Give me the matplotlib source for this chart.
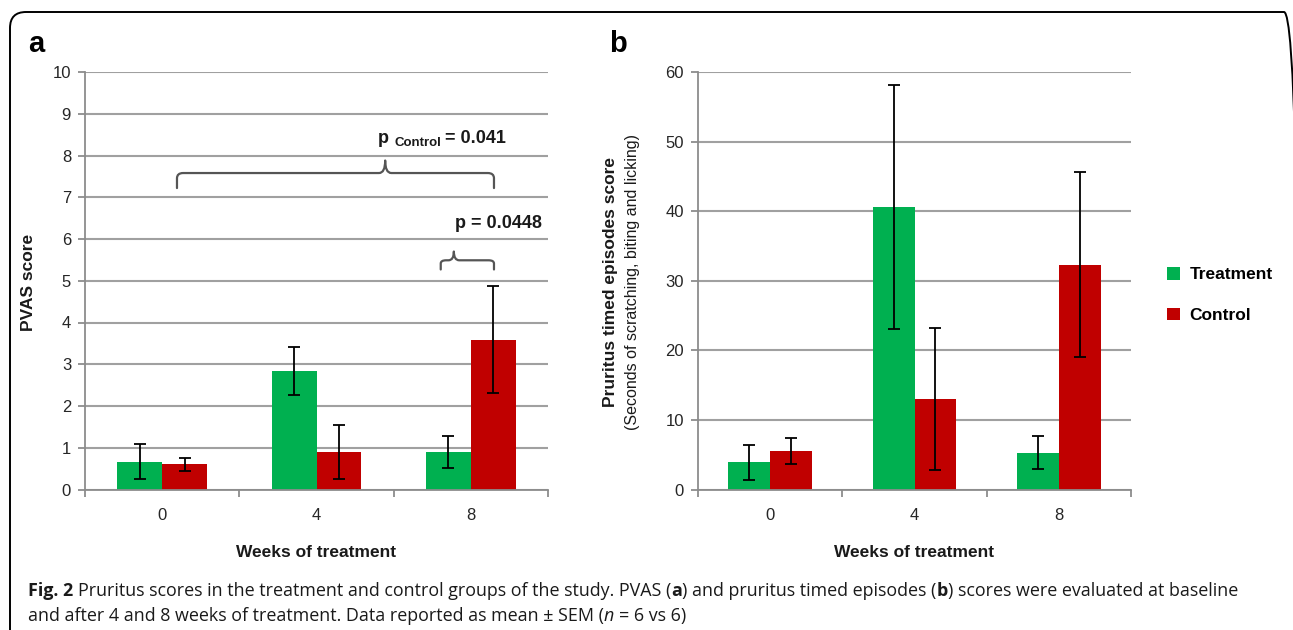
import numpy as np
import matplotlib
matplotlib.use("Agg")
from matplotlib import pyplot as plt
from matplotlib.path import Path
from matplotlib.patches import PathPatch, FancyBboxPatch
import matplotlib.transforms as mtransforms

weeks = ["0", "4", "8"]
pvas_treat = [0.66, 2.84, 0.90]
pvas_treat_sem = [0.42, 0.585, 0.385]
pvas_ctrl = [0.60, 0.90, 3.59]
pvas_ctrl_sem = [0.155, 0.65, 1.29]
ep_treat = [3.9, 40.6, 5.3]
ep_treat_sem = [2.5, 17.5, 2.4]
ep_ctrl = [5.5, 13.0, 32.3]
ep_ctrl_sem = [1.83, 10.2, 13.3]

GREEN = "#00b050"
RED = "#c00000"
GRID = "#a0a0a0"
SANS = ["Liberation Sans", "DejaVu Sans"]
CAP = ["Open Sans", "DejaVu Sans"]

fig = plt.figure(figsize=(12.93, 6.30), dpi=100)
renderer = fig.canvas.get_renderer()

# frame round the figure (pixel coords)
frame = FancyBboxPatch((10, -40), 1290, 658, boxstyle="round,pad=0,rounding_size=16",
                       transform=mtransforms.IdentityTransform(), fill=False,
                       ec="black", lw=1.4, zorder=0)
fig.patches.append(frame)

ax_a = fig.add_axes([85/1293, 140.5/630, 463/1293, 417.5/630])
ax_b = fig.add_axes([698/1293, 140.5/630, 433/1293, 417.5/630])

x = np.arange(len(weeks))
w = 0.29


def style_axes(ax, ymax, step):
    ax.set_xlim(-0.5, 2.5)
    ax.set_ylim(0, ymax)
    ax.set_yticks(np.arange(0, ymax + step / 2, step))
    ax.yaxis.grid(True, color=GRID, lw=1.5)
    ax.set_axisbelow(True)
    for s in ["top", "right"]:
        ax.spines[s].set_visible(False)
    for s in ["left", "bottom"]:
        ax.spines[s].set_color("#8c8c8c")
        ax.spines[s].set_linewidth(1.3)
    ax.set_xticks([-0.5, 0.5, 1.5, 2.5])
    ax.set_xticklabels([])
    ax.set_xticks(x, minor=True)
    ax.set_xticklabels(weeks, minor=True, fontfamily=SANS, fontsize=12, color="#262626")
    ax.tick_params(axis="x", which="major", length=5, width=1.3, color="#8c8c8c")
    ax.tick_params(axis="x", which="minor", length=0, pad=13)
    ax.tick_params(axis="y", length=5, width=1.3, color="#8c8c8c", pad=5)
    for t in ax.get_yticklabels():
        t.set_fontfamily(SANS)
        t.set_fontsize(12)
        t.set_color("#262626")
    ax.set_xlabel("Weeks of treatment", fontfamily=SANS, fontsize=12.5,
                  fontweight="bold", labelpad=16, color="#1a1a1a")


ekw = dict(ecolor="black", elinewidth=1.3, capsize=4.5, capthick=1.3)
ax_a.bar(x - w/2, pvas_treat, w, color=GREEN, yerr=pvas_treat_sem, error_kw=ekw, label="Treatment")
ax_a.bar(x + w/2, pvas_ctrl, w, color=RED, yerr=pvas_ctrl_sem, error_kw=ekw, label="Control")
style_axes(ax_a, 10, 1)
ax_a.set_ylabel("PVAS score", fontfamily=SANS, fontsize=12.5, fontweight="bold", color="#1a1a1a")
ax_a.yaxis.set_label_coords((36 - 85) / 463, 0.497)

ax_b.bar(x - w/2, ep_treat, w, color=GREEN, yerr=ep_treat_sem, error_kw=ekw, label="Treatment")
ax_b.bar(x + w/2, ep_ctrl, w, color=RED, yerr=ep_ctrl_sem, error_kw=ekw, label="Control")
style_axes(ax_b, 60, 10)
fig.text(610/1293, 1 - 282/630, "Pruritus timed episodes score", rotation=90,
         ha="center", va="center", fontfamily=SANS, fontsize=12.5, fontweight="bold", color="#1a1a1a")
fig.text(633/1293, 1 - 282/630, "(Seconds of scratching, biting and licking)", rotation=90,
         ha="center", va="center", fontfamily=SANS, fontsize=11.5, color="#1a1a1a")

ax_b.legend(loc="center left", bbox_to_anchor=(1167/1293, 1 - 295/630),
            bbox_transform=fig.transFigure, frameon=False, borderpad=0,
            borderaxespad=0, handlelength=0.75, handleheight=0.75,
            handletextpad=0.55, labelspacing=1.45,
            prop=dict(family=SANS, size=12.5, weight="bold"))

# panel letters
fig.text(28/1293, 1 - 52/630, "a", fontfamily=SANS, fontsize=21, fontweight="bold")
fig.text(609/1293, 1 - 52/630, "b", fontfamily=SANS, fontsize=21, fontweight="bold")


def brace(ax, x0, x1, xt, yb, yl, yt, r=0.04):
    verts = [(x0, yb), (x0, yl - (yl - yb) * 0.35), (x0, yl), (x0 + r, yl),
             (xt - r, yl), (xt, yl), (xt, yt),
             (xt, yl), (xt + r, yl),
             (x1 - r, yl), (x1, yl), (x1, yl - (yl - yb) * 0.35), (x1, yb)]
    codes = [Path.MOVETO, Path.LINETO, Path.CURVE3, Path.CURVE3,
             Path.LINETO, Path.CURVE3, Path.CURVE3,
             Path.CURVE3, Path.CURVE3,
             Path.LINETO, Path.CURVE3, Path.CURVE3, Path.LINETO]
    ax.add_patch(PathPatch(Path(verts, codes), fill=False, ec="#555555", lw=1.6,
                           capstyle="round", joinstyle="round", zorder=4))


brace(ax_a, 0.096, 2.15, 1.445, 7.22, 7.58, 7.88)
brace(ax_a, 1.805, 2.15, 1.89, 5.27, 5.49, 5.70, r=0.035)


def runs(parent, trans, x0, y0, parts):
    dx = 0.0
    for s, gap, dy, kw in parts:
        dx += gap
        tr = mtransforms.offset_copy(trans, x=dx, y=dy, units="dots")
        t = parent.text(x0, y0, s, transform=tr, **kw)
        dx += t.get_window_extent(renderer).width
    return dx


pbig = dict(fontfamily=SANS, fontsize=13, fontweight="bold", color="#1a1a1a")
psmall = dict(fontfamily=SANS, fontsize=9.5, fontweight="bold", color="#1a1a1a")
runs(ax_a, ax_a.transData, 1.396, 8.3,
     [("p", 0, 0, pbig), ("Control", 6, -3, psmall), ("= 0.041", 4, 0, pbig)])
runs(ax_a, ax_a.transData, 1.90, 6.26, [("p = 0.0448", 0, 0, pbig)])

# caption
cn = dict(fontfamily=CAP, fontsize=12.9, color="#1a1a1a")
cb = dict(fontfamily=CAP, fontsize=12.9, fontweight="bold", color="#1a1a1a")
ci = dict(fontfamily=CAP, fontsize=12.9, style="italic", color="#1a1a1a")
tmp = fig.text(0, 0, "a a", **cn)
w1 = tmp.get_window_extent(renderer).width
tmp.set_text("aa")
sp = w1 - tmp.get_window_extent(renderer).width
tmp.remove()

runs(fig, fig.transFigure, 28/1293, 1 - 596/630,
     [("Fig. 2", 0, 0, cb),
      ("Pruritus scores in the treatment and control groups of the study. PVAS (", sp, 0, cn),
      ("a", 0, 0, cb), (") and pruritus timed episodes (", 0, 0, cn),
      ("b", 0, 0, cb), (") scores were evaluated at baseline", 0, 0, cn)])
runs(fig, fig.transFigure, 28/1293, 1 - 621/630,
     [("and after 4 and 8 weeks of treatment. Data reported as mean \u00b1 SEM (", 0, 0, cn),
      ("n", 0, 0, ci), ("= 6 vs 6)", sp, 0, cn)])

fig.savefig("out.png", dpi=100)
